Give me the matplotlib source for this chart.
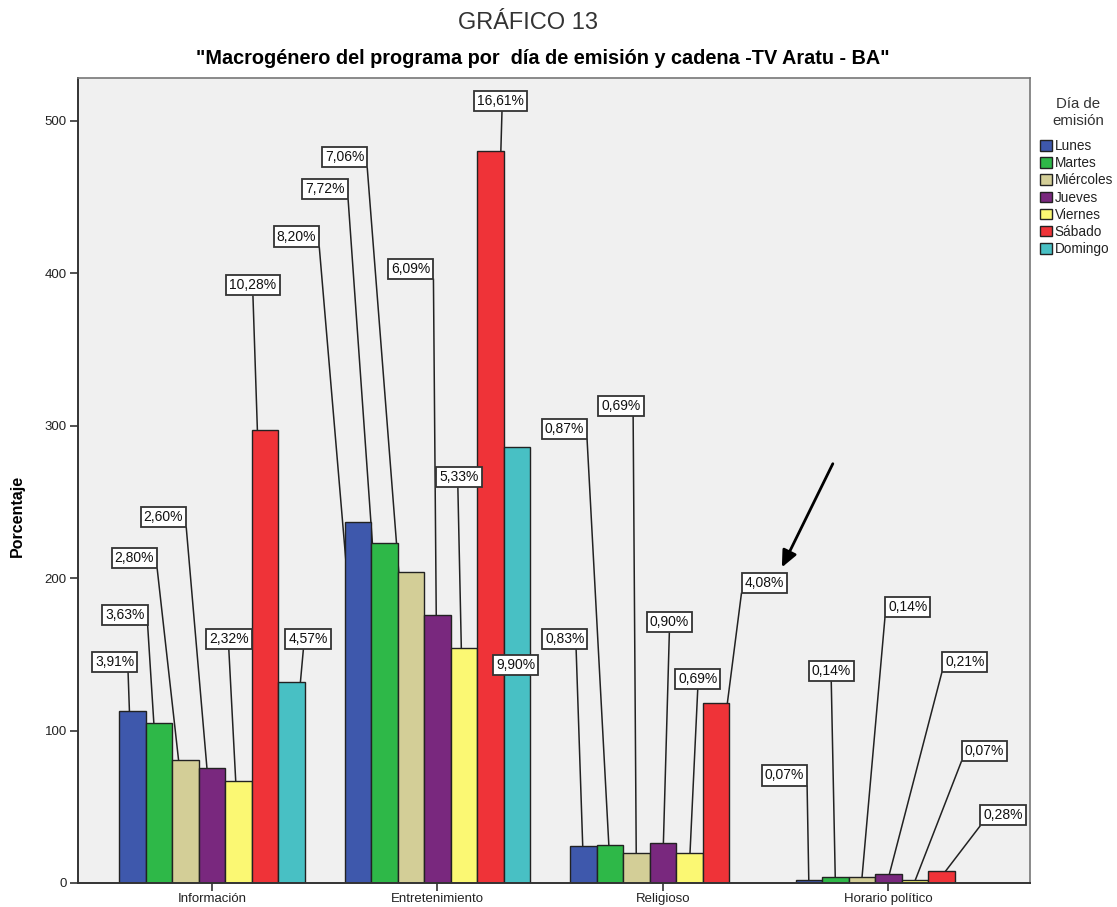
import numpy as np
import matplotlib
matplotlib.use("Agg")
import matplotlib.pyplot as plt
from matplotlib.patches import Patch

plt.rcParams['font.family'] = ['Liberation Sans', 'DejaVu Sans']

categorias = ["Información", "Entretenimiento", "Religioso", "Horario político"]
dias = ["Lunes", "Martes", "Miércoles", "Jueves", "Viernes", "Sábado", "Domingo"]
colores = ["#3e58ac", "#2eb848", "#d3ce97", "#79287e", "#fbf873", "#ef3338", "#48c0c4"]

# porcentaje sobre el total de programas, por día y macrogénero
pct_lunes = [3.91, 8.20, 0.83, 0.07]
pct_martes = [3.63, 7.72, 0.87, 0.14]
pct_miercoles = [2.80, 7.06, 0.69, 0.14]
pct_jueves = [2.60, 6.09, 0.90, 0.21]
pct_viernes = [2.32, 5.33, 0.69, 0.07]
pct_sabado = [10.28, 16.61, 4.08, 0.28]
pct_domingo = [4.57, 9.90, None, None]
total_programas = 2890

serie_pct = [pct_lunes, pct_martes, pct_miercoles, pct_jueves,
             pct_viernes, pct_sabado, pct_domingo]

# ubicación de cada etiqueta: (x en unidades de categoría, y en unidades del eje,
# punto de salida de la línea guía a lo largo del borde inferior de la caja)
pos_etiquetas = {
    (0, 0): (-0.432, 145, 0.80), (1, 0): (-0.386, 176, 1.0),
    (2, 0): (-0.344, 213, 1.0), (3, 0): (-0.215, 240, 1.0),
    (4, 0): (0.075, 160, 0.5), (5, 0): (0.182, 392, 0.5),
    (6, 0): (0.426, 160, 0.4),
    (0, 1): (0.375, 424, 1.0), (1, 1): (0.503, 455, 1.0),
    (2, 1): (0.588, 476, 1.0), (3, 1): (0.882, 403, 1.0),
    (4, 1): (1.095, 266, 0.48), (5, 1): (1.282, 513, 0.52),
    (6, 1): (1.348, 143, None),
    (0, 2): (1.565, 160, 0.75), (1, 2): (1.563, 298, 1.0),
    (2, 2): (1.814, 313, 0.77), (3, 2): (2.029, 171, 0.5),
    (4, 2): (2.155, 134, 0.5), (5, 2): (2.450, 197, 0.0),
    (0, 3): (2.539, 70.5, 1.0), (1, 3): (2.747, 139, 0.5),
    (2, 3): (3.086, 181, 0.0), (3, 3): (3.339, 145, 0.0),
    (4, 3): (3.426, 86.6, 0.0), (5, 3): (3.510, 44.3, 0.0),
}

fig = plt.figure(figsize=(11.17, 9.07), dpi=100)
ax = fig.add_axes([0.0698, 0.0265, 0.852, 0.8875])
ax.set_facecolor("#f0f0f0")

x = np.arange(len(categorias))
ancho = 0.1175
n = len(dias)

ax.set_xlim(-0.594, 3.627)
ax.set_ylim(0, 528)
ax.autoscale(False)

etiquetas = []
for i, (dia, col, pcts) in enumerate(zip(dias, colores, serie_pct)):
    offs = (i - (n - 1) / 2) * ancho
    for j, p in enumerate(pcts):
        if p is None:
            continue
        h = p * total_programas / 100.0
        xc = x[j] + offs
        ax.bar(xc, h, width=ancho, color=col, edgecolor="#222222",
               linewidth=1.0, zorder=2)
        lx, ly, frac = pos_etiquetas[(i, j)]
        texto = f"{p:.2f}%".replace(".", ",")
        t = ax.text(lx, ly, texto, ha="center", va="center", fontsize=10,
                    color="#111111", zorder=5,
                    bbox=dict(boxstyle="square,pad=0.22", fc="white",
                              ec="#333333", lw=1.3))
        etiquetas.append((t, frac, xc, h / 2.0))

# líneas guía desde el borde inferior de cada caja hacia su barra
fig.canvas.draw()
renderer = fig.canvas.get_renderer()
inv = ax.transData.inverted()
for t, frac, tx, ty in etiquetas:
    if frac is None:
        continue
    bb = t.get_bbox_patch().get_window_extent(renderer)
    sx, sy = inv.transform((bb.x0 + frac * bb.width, bb.y0))
    ax.plot([sx, tx], [sy, ty], color="#222222", lw=1.1, zorder=1.5,
            solid_capstyle="butt")

# flecha de resalte
ax.annotate("", xy=(2.528, 207), xytext=(2.754, 275),
            arrowprops=dict(arrowstyle="-|>,head_length=1.0,head_width=0.45",
                            color="black", lw=2.0, shrinkA=0, shrinkB=0),
            zorder=6)

ax.set_xticks(x)
ax.set_xticklabels(categorias)
ax.set_yticks([0, 100, 200, 300, 400, 500])
ax.tick_params(axis="y", direction="out", length=6, width=1.2,
               labelsize=9.5, pad=2, color="#333333", labelcolor="#222222")
ax.tick_params(axis="x", direction="out", length=6, width=1.2,
               labelsize=9.5, pad=1, color="#333333", labelcolor="#222222")
for s in ["top", "right"]:
    ax.spines[s].set_color("#777777")
    ax.spines[s].set_linewidth(1.2)
for s in ["left", "bottom"]:
    ax.spines[s].set_color("#333333")
    ax.spines[s].set_linewidth(1.4)

ax.set_ylabel("Porcentaje", fontsize=11.5, fontweight="bold")
ax.yaxis.set_label_coords(-0.0557, 0.4565)

fig.text(0.473, 0.975, "GRÁFICO 13", ha="center", va="center", fontsize=17,
         color="#333333")
fig.text(0.486, 0.936,
         "\"Macrogénero del programa por  día de emisión y cadena -TV Aratu - BA\"",
         ha="center", va="center", fontsize=14.3, fontweight="bold")

# leyenda
fig.text(0.9655, 0.876, "Día de\nemisión", ha="center", va="center",
         fontsize=10.8, color="#333333", linespacing=1.2)
handles = [Patch(facecolor=c, edgecolor="#222222", label=d)
           for d, c in zip(dias, colores)]
leg = fig.legend(handles=handles, loc="upper left",
                 bbox_to_anchor=(0.931, 0.8465),
                 frameon=False, fontsize=9.8,
                 handlelength=0.88, handleheight=0.82, handletextpad=0.2,
                 labelspacing=0.23, borderaxespad=0, borderpad=0)
for txt in leg.get_texts():
    txt.set_color("#222222")

fig.savefig("out.png", dpi=100)
